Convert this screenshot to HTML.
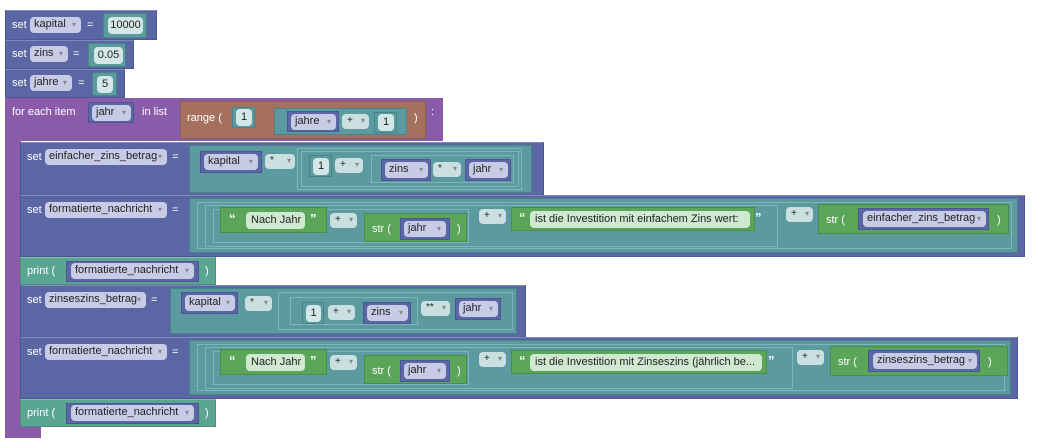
<!DOCTYPE html>
<html><head><meta charset="utf-8"><style>
body{margin:0;width:1043px;height:448px;background:#fff;position:relative;overflow:hidden;font-family:"Liberation Sans",sans-serif;font-size:11px;}
div{position:absolute;box-sizing:border-box;white-space:nowrap;}
.b{background:#5b67a5;border:1px solid #4b5793;border-top-color:#7d88bd;}
.p{background:#8a5ba8;}
.r{background:#a5705d;border:1px solid #8d5e4d;}
.t{background:#5b9ba0;border:1px solid #4b8287;}
.ti{border:1px solid #7fb6ba;}
.pr{background:#5ba593;border:1px solid #4b8c7c;border-top-color:#7dc0ae;}
.g{background:#5ba55b;border:1px solid #4b8d4b;}
.v{background:#5b67a5;border:1px solid #4b5793;}
.f{background:#c7cbe6;border-radius:4px;color:#222;padding-left:4px;line-height:15px;height:16px;overflow:hidden;}
.f:after{content:"▾";position:absolute;right:5px;top:0;font-size:8px;color:#888;}
.n{background:#d3e7e6;border-radius:4px;color:#222;text-align:center;line-height:16px;height:17px;}
.o{background:#c9dfe0;border-radius:4px;color:#222;padding-left:5px;line-height:14px;height:15px;font-size:10px;}
.o:after{content:"▾";position:absolute;right:4px;top:0;font-size:8px;color:#888;}
.s{background:#cfe8cf;border-radius:4px;color:#222;padding-left:5px;line-height:16px;height:17px;overflow:hidden;}
.w{color:#fff;line-height:14px;}
.q{color:#fff;font-weight:bold;font-size:13px;}
</style></head><body>
<!-- top sets -->
<div class="b" style="left:5px;top:10px;width:152px;height:30px"></div>
<div class="w" style="left:12px;top:18px">set</div>
<div class="f" style="left:30px;top:17px;width:51px">kapital</div>
<div class="w" style="left:87px;top:18px">=</div>
<div class="t" style="left:103px;top:13px;width:44px;height:25px"></div>
<div class="n" style="left:108px;top:17px;width:35px">10000</div>

<div class="b" style="left:5px;top:40px;width:129px;height:29px"></div>
<div class="w" style="left:12px;top:47px">set</div>
<div class="f" style="left:30px;top:46px;width:38px">zins</div>
<div class="w" style="left:73px;top:47px">=</div>
<div class="t" style="left:88px;top:43px;width:38px;height:24px"></div>
<div class="n" style="left:94px;top:47px;width:29px">0.05</div>

<div class="b" style="left:5px;top:69px;width:120px;height:29px"></div>
<div class="w" style="left:12px;top:76px">set</div>
<div class="f" style="left:30px;top:75px;width:42px">jahre</div>
<div class="w" style="left:78px;top:76px">=</div>
<div class="t" style="left:92px;top:72px;width:25px;height:24px"></div>
<div class="n" style="left:97px;top:76px;width:16px">5</div>

<!-- for each -->
<div class="p" style="left:5px;top:98px;width:438px;height:43px"></div>
<div class="p" style="left:5px;top:98px;width:16px;height:340px"></div>
<div class="p" style="left:5px;top:427px;width:36px;height:11px"></div>
<div class="w" style="left:12px;top:105px">for each item</div>
<div class="v" style="left:88px;top:102px;width:46px;height:21px"></div>
<div class="f" style="left:92px;top:105px;width:39px">jahr</div>
<div class="w" style="left:142px;top:105px">in list</div>
<div class="r" style="left:180px;top:101px;width:246px;height:38px"></div>
<div class="w" style="left:187px;top:111px">range (</div>
<div class="t" style="left:232px;top:107px;width:23px;height:21px"></div>
<div class="n" style="left:236px;top:109px;width:16px">1</div>
<div class="t" style="left:274px;top:108px;width:133px;height:27px"></div>
<div class="v" style="left:287px;top:111px;width:52px;height:21px"></div>
<div class="f" style="left:291px;top:114px;width:45px">jahre</div>
<div class="o" style="left:342px;top:114px;width:27px">+</div>
<div class="t" style="left:374px;top:112px;width:23px;height:21px"></div>
<div class="n" style="left:378px;top:114px;width:16px">1</div>
<div class="w" style="left:414px;top:111px">)</div>
<div class="w" style="left:431px;top:105px">:</div>

<!-- set einfacher -->
<div class="b" style="left:20px;top:142px;width:524px;height:54px"></div>
<div class="w" style="left:27px;top:150px">set</div>
<div class="f" style="left:45px;top:149px;width:122px">einfacher_zins_betrag</div>
<div class="w" style="left:172px;top:150px">=</div>
<div class="t" style="left:189px;top:145px;width:343px;height:48px"></div>
<div class="v" style="left:200px;top:151px;width:62px;height:22px"></div>
<div class="f" style="left:204px;top:154px;width:54px">kapital</div>
<div class="o" style="left:265px;top:154px;width:30px">*</div>
<div class="ti" style="left:297px;top:148px;width:225px;height:42px"></div>
<div class="ti" style="left:301px;top:151px;width:218px;height:36px"></div>
<div class="t" style="left:309px;top:155px;width:23px;height:22px"></div>
<div class="n" style="left:313px;top:158px;width:16px">1</div>
<div class="o" style="left:335px;top:158px;width:28px">+</div>
<div class="ti" style="left:371px;top:155px;width:143px;height:28px"></div>
<div class="v" style="left:381px;top:159px;width:50px;height:22px"></div>
<div class="f" style="left:385px;top:162px;width:43px">zins</div>
<div class="o" style="left:433px;top:162px;width:28px">*</div>
<div class="v" style="left:465px;top:159px;width:46px;height:22px"></div>
<div class="f" style="left:469px;top:162px;width:39px">jahr</div>

<!-- set formatierte 1 -->
<div class="b" style="left:20px;top:195px;width:1005px;height:62px"></div>
<div class="w" style="left:27px;top:203px">set</div>
<div class="f" style="left:45px;top:202px;width:122px">formatierte_nachricht</div>
<div class="w" style="left:172px;top:203px">=</div>
<div class="t" style="left:189px;top:198px;width:829px;height:55px"></div>
<div class="ti" style="left:197px;top:202px;width:815px;height:47px"></div>
<div class="ti" style="left:205px;top:205px;width:573px;height:42px"></div>
<div class="ti" style="left:213px;top:209px;width:256px;height:34px"></div>
<div class="g" style="left:220px;top:207px;width:107px;height:26px"></div>
<div class="q" style="left:229px;top:211px">“</div>
<div class="s" style="left:246px;top:212px;width:59px">Nach Jahr</div>
<div class="q" style="left:310px;top:211px">”</div>
<div class="o" style="left:330px;top:213px;width:27px">+</div>
<div class="g" style="left:364px;top:213px;width:103px;height:29px"></div>
<div class="w" style="left:372px;top:222px">str (</div>
<div class="v" style="left:400px;top:218px;width:50px;height:22px"></div>
<div class="f" style="left:404px;top:221px;width:42px">jahr</div>
<div class="w" style="left:457px;top:222px">)</div>
<div class="o" style="left:479px;top:209px;width:27px">+</div>
<div class="g" style="left:511px;top:207px;width:244px;height:24px"></div>
<div class="q" style="left:519px;top:210px">“</div>
<div class="s" style="left:530px;top:211px;width:220px">ist die Investition mit einfachem Zins wert:</div>
<div class="q" style="left:755px;top:210px">”</div>
<div class="o" style="left:786px;top:207px;width:27px">+</div>
<div class="g" style="left:818px;top:204px;width:191px;height:30px"></div>
<div class="w" style="left:826px;top:213px">str (</div>
<div class="v" style="left:858px;top:208px;width:131px;height:22px"></div>
<div class="f" style="left:863px;top:211px;width:123px">einfacher_zins_betrag</div>
<div class="w" style="left:997px;top:213px">)</div>

<!-- print 1 -->
<div class="pr" style="left:20px;top:257px;width:196px;height:28px"></div>
<div class="w" style="left:27px;top:264px">print (</div>
<div class="v" style="left:66px;top:261px;width:133px;height:21px"></div>
<div class="f" style="left:71px;top:263px;width:123px">formatierte_nachricht</div>
<div class="w" style="left:205px;top:264px">)</div>

<!-- set zinseszins -->
<div class="b" style="left:20px;top:285px;width:506px;height:53px"></div>
<div class="w" style="left:27px;top:293px">set</div>
<div class="f" style="left:45px;top:292px;width:101px">zinseszins_betrag</div>
<div class="w" style="left:151px;top:293px">=</div>
<div class="t" style="left:170px;top:288px;width:347px;height:46px"></div>
<div class="v" style="left:181px;top:292px;width:57px;height:22px"></div>
<div class="f" style="left:185px;top:295px;width:50px">kapital</div>
<div class="o" style="left:245px;top:296px;width:27px">*</div>
<div class="ti" style="left:278px;top:292px;width:235px;height:38px"></div>
<div class="ti" style="left:290px;top:297px;width:128px;height:28px"></div>
<div class="t" style="left:302px;top:302px;width:22px;height:22px"></div>
<div class="n" style="left:306px;top:305px;width:15px">1</div>
<div class="o" style="left:328px;top:305px;width:27px">+</div>
<div class="v" style="left:363px;top:302px;width:48px;height:22px"></div>
<div class="f" style="left:367px;top:305px;width:41px">zins</div>
<div class="o" style="left:421px;top:301px;width:29px">**</div>
<div class="v" style="left:455px;top:298px;width:46px;height:22px"></div>
<div class="f" style="left:459px;top:301px;width:39px">jahr</div>

<!-- set formatierte 2 -->
<div class="b" style="left:20px;top:337px;width:998px;height:62px"></div>
<div class="w" style="left:27px;top:345px">set</div>
<div class="f" style="left:45px;top:344px;width:122px">formatierte_nachricht</div>
<div class="w" style="left:172px;top:345px">=</div>
<div class="t" style="left:189px;top:340px;width:822px;height:55px"></div>
<div class="ti" style="left:197px;top:344px;width:808px;height:47px"></div>
<div class="ti" style="left:205px;top:347px;width:588px;height:42px"></div>
<div class="ti" style="left:213px;top:351px;width:256px;height:34px"></div>
<div class="g" style="left:220px;top:349px;width:107px;height:26px"></div>
<div class="q" style="left:229px;top:353px">“</div>
<div class="s" style="left:246px;top:354px;width:59px">Nach Jahr</div>
<div class="q" style="left:310px;top:353px">”</div>
<div class="o" style="left:330px;top:355px;width:27px">+</div>
<div class="g" style="left:364px;top:355px;width:103px;height:29px"></div>
<div class="w" style="left:372px;top:364px">str (</div>
<div class="v" style="left:400px;top:360px;width:50px;height:22px"></div>
<div class="f" style="left:404px;top:363px;width:42px">jahr</div>
<div class="w" style="left:457px;top:364px">)</div>
<div class="o" style="left:479px;top:352px;width:27px">+</div>
<div class="g" style="left:511px;top:350px;width:256px;height:24px"></div>
<div class="q" style="left:519px;top:353px">“</div>
<div class="s" style="left:530px;top:354px;width:232px">ist die Investition mit Zinseszins (jährlich be...</div>
<div class="q" style="left:768px;top:353px">”</div>
<div class="o" style="left:797px;top:350px;width:27px">+</div>
<div class="g" style="left:830px;top:346px;width:178px;height:30px"></div>
<div class="w" style="left:838px;top:355px">str (</div>
<div class="v" style="left:868px;top:350px;width:112px;height:22px"></div>
<div class="f" style="left:873px;top:353px;width:104px">zinseszins_betrag</div>
<div class="w" style="left:988px;top:355px">)</div>

<!-- print 2 -->
<div class="pr" style="left:20px;top:399px;width:196px;height:28px"></div>
<div class="w" style="left:27px;top:406px">print (</div>
<div class="v" style="left:66px;top:403px;width:133px;height:21px"></div>
<div class="f" style="left:71px;top:405px;width:123px">formatierte_nachricht</div>
<div class="w" style="left:205px;top:406px">)</div>
</body></html>
